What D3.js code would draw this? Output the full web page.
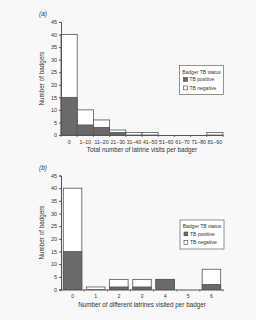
<!DOCTYPE html>
<html>
<head>
<meta charset="utf-8">
<script src="https://cdn.jsdelivr.net/npm/d3@7"></script>
<style>
  body { margin: 0; background: #f8f8f8; }
  svg { display: block; font-family: "Liberation Sans", Arial, sans-serif; }
  .tick text { fill: #333; }
</style>
</head>
<body>
<svg id="chart" width="256" height="320"></svg>
<script>
// panel (a)
var visitCats = ['0', '1\u201310', '11\u201320', '21\u201330', '31\u201340', '41\u201350', '51\u201360', '61\u201370', '71\u201380', '81\u201390'];
var visitPositive = [15, 4, 3, 1, 0, 0, 0, 0, 0, 0];
var visitTotal = [40, 10, 6, 2, 1, 1, 0, 0, 0, 1];

// panel (b)
var latrineCats = ['0', '1', '2', '3', '4', '5', '6'];
var latrinePositive = [15, 0, 1, 1, 4, 0, 2];
var latrineTotal = [40, 1, 4, 4, 4, 0, 8];

var yTicks = [0, 5, 10, 15, 20, 25, 30, 35, 40, 45];
var legendItems = ['TB positive', 'TB negative'];

var svg = d3.select('#chart');

var drawPanel = function(o) {
	var g = svg.append('g');
	var x = d3.scaleBand().domain(o.cats).range([61, 223]).paddingInner(o.pad).paddingOuter(o.pad / 2);
	var y = d3.scaleLinear().domain([0, 45]).range([o.y0, o.y45]);

	g.append('text').attr('x', o.labelX).attr('y', o.y45 - 6)
		.attr('font-size', 6.5).attr('font-style', 'italic').attr('fill', '#333')
		.text(o.label);

	// bars: negative on top of positive
	var rows = o.cats.map(function(c, i) { return {cat: c, pos: o.pos[i], tot: o.tot[i]}; });
	g.selectAll('rect.neg').data(rows.filter(function(d) { return d.tot > 0; })).enter().append('rect')
		.attr('x', function(d) { return x(d.cat); })
		.attr('width', x.bandwidth())
		.attr('y', function(d) { return y(d.tot); })
		.attr('height', function(d) { return y(0) - y(d.tot); })
		.attr('fill', '#fff').attr('stroke', '#555').attr('stroke-width', 0.8);
	g.selectAll('rect.pos').data(rows.filter(function(d) { return d.pos > 0; })).enter().append('rect')
		.attr('x', function(d) { return x(d.cat); })
		.attr('width', x.bandwidth())
		.attr('y', function(d) { return y(d.pos); })
		.attr('height', function(d) { return y(0) - y(d.pos); })
		.attr('fill', '#6a6a6a').attr('stroke', '#555').attr('stroke-width', 0.8);

	// y axis
	var ya = g.append('g').attr('transform', 'translate(61,0)')
		.call(d3.axisLeft(y).tickValues(yTicks).tickSize(2).tickPadding(2));
	ya.selectAll('text').attr('font-size', 5.5);
	ya.selectAll('line, path').attr('stroke', '#555');

	// x axis: baseline plus boundary ticks
	var xa = g.append('g').attr('transform', 'translate(0,' + o.y0 + ')')
		.call(d3.axisBottom(x).tickSize(0).tickPadding(5));
	xa.select('.domain').attr('stroke', '#555');
	xa.selectAll('text').attr('font-size', 5.2);
	var step = x.step();
	var edges = d3.range(o.cats.length + 1).map(function(i) { return x.range()[0] + i * step; });
	g.selectAll('line.edge').data(edges).enter().append('line')
		.attr('x1', function(d) { return d; }).attr('x2', function(d) { return d; })
		.attr('y1', o.y0).attr('y2', o.y0 + 2)
		.attr('stroke', '#555').attr('stroke-width', 0.8);

	g.append('text').attr('x', 142).attr('y', o.y0 + 17)
		.attr('text-anchor', 'middle').attr('font-size', 6.3).attr('fill', '#333')
		.text(o.xTitle);
	g.append('text')
		.attr('transform', 'translate(44,' + ((o.y0 + o.y45) / 2) + ') rotate(-90)')
		.attr('text-anchor', 'middle').attr('font-size', 6.3).attr('fill', '#333')
		.text('Number of badgers');

	// legend
	var lg = g.append('g').attr('transform', 'translate(' + o.legX + ',' + o.legY + ')');
	lg.append('rect').attr('width', 44).attr('height', 29)
		.attr('fill', '#fff').attr('stroke', '#666').attr('stroke-width', 0.7);
	lg.append('text').attr('x', 22).attr('y', 8).attr('text-anchor', 'middle')
		.attr('font-size', 5).attr('fill', '#333').text('Badger TB status');
	legendItems.forEach(function(name, i) {
		lg.append('rect').attr('x', 4).attr('y', 12 + i * 8.5).attr('width', 3.8).attr('height', 3.8)
			.attr('fill', i === 0 ? '#6a6a6a' : '#fff').attr('stroke', '#444').attr('stroke-width', 0.6);
		lg.append('text').attr('x', 10).attr('y', 15.8 + i * 8.5)
			.attr('font-size', 5).attr('fill', '#333').text(name);
	});
};

drawPanel({cats: visitCats, pos: visitPositive, tot: visitTotal, pad: 0,
	y0: 135, y45: 22, label: '(a)', labelX: 39,
	xTitle: 'Total number of latrine visits per badger', legX: 179.5, legY: 65.5});
drawPanel({cats: latrineCats, pos: latrinePositive, tot: latrineTotal, pad: 0.2,
	y0: 289.5, y45: 175.5, label: '(b)', labelX: 39,
	xTitle: 'Number of different latrines visited per badger', legX: 180, legY: 220});
</script>
</body>
</html>
